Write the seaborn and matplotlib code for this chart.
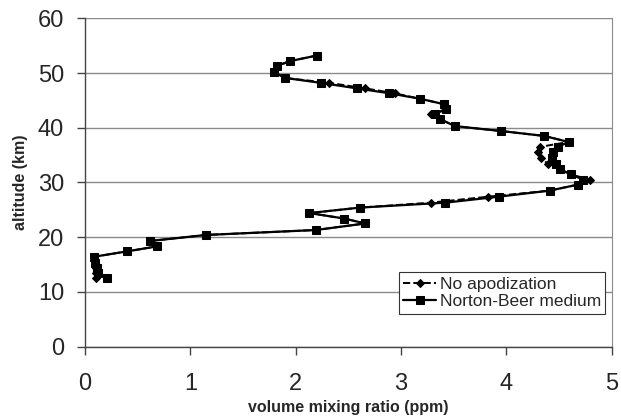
import matplotlib
matplotlib.use("Agg")
import matplotlib.pyplot as plt
import seaborn as sns

# altitude levels (km) and mixing ratios (ppm)
altitude = [12.5, 13.4, 14.4, 15.3, 16.4, 17.4, 18.3, 19.3, 20.4, 21.3,
            22.5, 23.4, 24.4, 25.4, 26.3, 27.4, 28.5, 29.6, 30.5, 31.5,
            32.4, 33.3, 34.5, 35.5, 36.5, 37.4, 38.5, 39.4, 40.3, 41.6,
            42.5, 43.4, 44.3, 45.3, 46.3, 47.2, 48.2, 49.1, 50.2, 51.3,
            52.2, 53.2]

norton_beer = [0.21, 0.12, 0.11, 0.09, 0.08, 0.40, 0.68, 0.62, 1.15, 2.19,
               2.66, 2.46, 2.13, 2.61, 3.42, 3.93, 4.41, 4.68, 4.73, 4.61,
               4.51, 4.47, 4.43, 4.44, 4.49, 4.59, 4.36, 3.95, 3.51, 3.37,
               3.32, 3.43, 3.41, 3.18, 2.89, 2.58, 2.24, 1.90, 1.79, 1.82,
               1.95, 2.20]

no_apod = [0.10, 0.10, 0.10, 0.09, 0.08, 0.40, 0.68, 0.62, 1.15, 2.19,
           2.66, 2.46, 2.13, 2.61, 3.28, 3.83, 4.41, 4.68, 4.79, 4.61,
           4.51, 4.40, 4.33, 4.30, 4.32, 4.59, 4.36, 3.95, 3.51, 3.37,
           3.28, 3.43, 3.41, 3.18, 2.94, 2.66, 2.32, 1.90, 1.79, 1.82,
           1.95, 2.20]

sns.set_style("ticks")
plt.rcParams["font.family"] = ["Liberation Sans", "DejaVu Sans"]

fig = plt.figure(figsize=(6.21, 4.17), dpi=100)
ax = fig.add_axes([0.137, 0.169, 0.848, 0.787])

sns.lineplot(x=no_apod, y=altitude, sort=False, estimator=None, ax=ax,
             color="black", linestyle="--", linewidth=1.4, marker="D",
             markersize=4.5, markeredgecolor="black", label="No apodization")
sns.lineplot(x=norton_beer, y=altitude, sort=False, estimator=None, ax=ax,
             color="black", linestyle="-", linewidth=1.6, marker="s",
             markersize=5.3, markeredgecolor="black", label="Norton-Beer medium")

ax.set_xlim(0, 5)
ax.set_ylim(0, 60)
ax.set_xticks(range(0, 6))
ax.set_yticks(range(0, 61, 10))
ax.yaxis.grid(True, color="#8a8a8a", linewidth=1.0)
ax.set_axisbelow(True)

for side in ["left", "bottom"]:
    ax.spines[side].set_color("#444444")
    ax.spines[side].set_linewidth(1.0)
ax.spines["right"].set_color("#8a8a8a")
ax.spines["top"].set_visible(False)
ax.tick_params(axis="both", direction="out", length=5.5, width=1.0,
               color="#444444", labelsize=17)
ax.tick_params(axis="x", pad=13.5)
ax.tick_params(axis="y", pad=9.5)

ax.set_xlabel("volume mixing ratio (ppm)", fontsize=11.5, fontweight="bold",
              labelpad=4)
ax.set_ylabel("altitude (km)", fontsize=11.5, fontweight="bold", labelpad=7)

leg = ax.legend(loc="lower right", bbox_to_anchor=(0.988, 0.10),
                borderaxespad=0, fontsize=12.5, frameon=True, fancybox=False,
                framealpha=1, edgecolor="#333333", handlelength=1.9,
                handletextpad=0.2, labelspacing=0.15, borderpad=0.25)
leg.get_frame().set_linewidth(0.8)

fig.savefig("out.png", dpi=100)
